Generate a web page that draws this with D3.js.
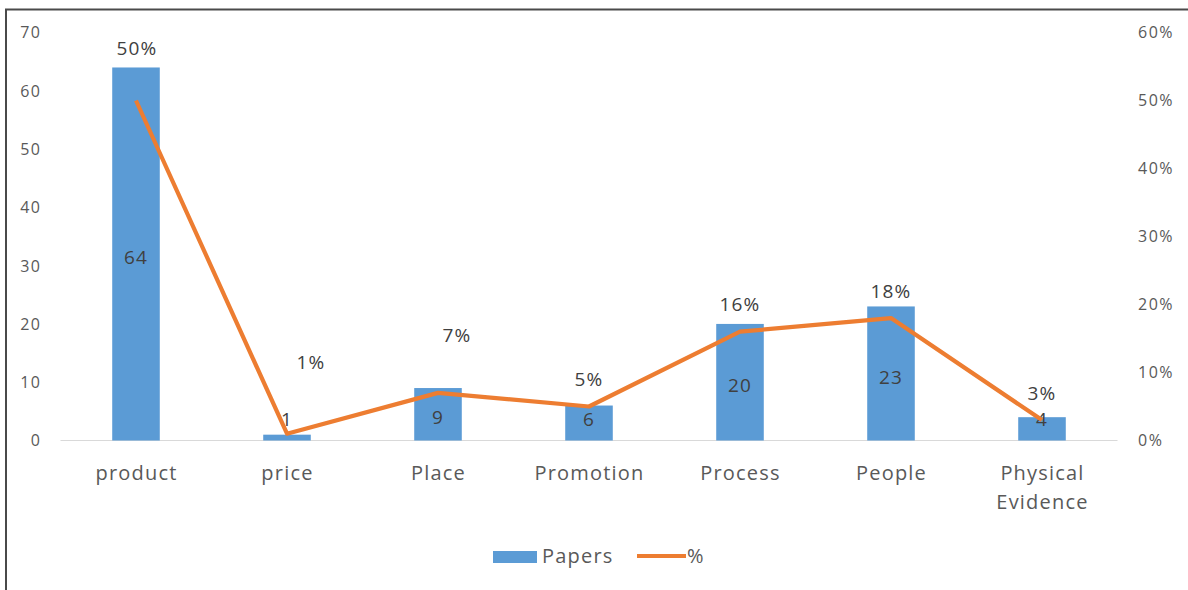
<!DOCTYPE html>
<html>
<head>
<meta charset="utf-8">
<script src="https://d3js.org/d3.v7.min.js"></script>
<style>
  html, body { margin: 0; padding: 0; background: #fff; }
  svg { display: block; }
  text { font-family: "Open Sans", "Noto Sans", sans-serif; }
</style>
</head>
<body>
<svg id="chart" width="1188" height="590"></svg>
<script>
// Marketing-mix elements and how many papers address each
const categories = ["product", "price", "Place", "Promotion", "Process", "People", "Physical Evidence"];
const papers = [64, 1, 9, 6, 20, 23, 4];
const percent = [50, 1, 7, 5, 16, 18, 3];          // share of papers, in %
const leftTicks = [0, 10, 20, 30, 40, 50, 60, 70];
const rightTicks = [0, 10, 20, 30, 40, 50, 60];
const seriesNames = ["Papers", "%"];

// Hand-placed nudges for some percentage labels (dx, dy in px, relative to the default "above" spot)
const pctLabelNudge = [[1, -25], [24, -44], [19, -31], [0, 0], [0, 0], [0, 0], [0, 0]];

const BLUE = "#5B9BD5", ORANGE = "#ED7D31", TXT = "#595959", LBL = "#404040";

const svg = d3.select("#chart");

// chart frame (right and bottom edges fall outside the picture)
svg.append("path")
  .attr("d", "M6,600 V9.5 H1200")
  .attr("fill", "none").attr("stroke", "#4a4a4a").attr("stroke-width", 2);

const plot = { left: 60.5, right: 1117.5, top: 32.5, bottom: 440.5 };

const x = d3.scaleBand().domain(categories).range([plot.left, plot.right]).paddingInner(0).paddingOuter(0);
const yL = d3.scaleLinear().domain([0, 70]).range([plot.bottom, plot.top]);
const yR = d3.scaleLinear().domain([0, 60]).range([plot.bottom, plot.top]);

// left value axis
const axL = svg.append("g").attr("transform", `translate(${plot.left},0)`)
  .call(d3.axisLeft(yL).tickValues(leftTicks).tickSize(0).tickPadding(19));
axL.select(".domain").remove();
axL.selectAll("text").attr("fill", TXT).style("font-size", "16px").attr("letter-spacing", "1.5")
  .attr("dy", "0.34em").attr("font-family", "Open Sans");

// right percent axis
const axR = svg.append("g").attr("transform", `translate(${plot.right},0)`)
  .call(d3.axisRight(yR).tickValues(rightTicks).tickFormat(d => d + "%").tickSize(0).tickPadding(20.5));
axR.select(".domain").remove();
axR.selectAll("text").attr("fill", TXT).style("font-size", "16px").attr("letter-spacing", "1.5")
  .attr("dy", "0.34em").attr("font-family", "Open Sans");

// category axis baseline
svg.append("line")
  .attr("x1", plot.left).attr("x2", plot.right)
  .attr("y1", plot.bottom).attr("y2", plot.bottom)
  .attr("stroke", "#d9d9d9").attr("stroke-width", 1.2);

// category labels, wrapped onto two lines where they contain a space after a long word
const catG = svg.append("g");
categories.forEach(c => {
  const words = c === "Physical Evidence" ? ["Physical", "Evidence"] : [c];
  const t = catG.append("text")
    .attr("x", x(c) + x.bandwidth() / 2 + 0.5)
    .attr("y", 480)
    .attr("text-anchor", "middle")
    .attr("fill", TXT)
    .style("font-size", "20px")
    .attr("letter-spacing", "1.2");
  words.forEach((w, i) => {
    t.append("tspan").attr("x", x(c) + x.bandwidth() / 2 + 0.5).attr("dy", i === 0 ? 0 : 29).text(w);
  });
});

// bars
const barW = x.bandwidth() * 0.315;
svg.append("g").selectAll("rect").data(papers).join("rect")
  .attr("x", (d, i) => x(categories[i]) + x.bandwidth() / 2 - barW / 2)
  .attr("y", d => yL(d))
  .attr("width", barW)
  .attr("height", d => yL(0) - yL(d))
  .attr("fill", BLUE);

// bar value labels, centred in the bar but kept clear of the baseline
svg.append("g").selectAll("text").data(papers).join("text")
  .attr("x", (d, i) => x(categories[i]) + x.bandwidth() / 2)
  .attr("y", d => Math.min((yL(d) + yL(0)) / 2, yL(0) - 25) + 3.5)
  .attr("dy", "0.35em")
  .attr("text-anchor", "middle")
  .attr("fill", LBL)
  .style("font-size", "19px")
  .attr("letter-spacing", "1.2")
  .text(d => d);

// percentage line
const line = d3.line()
  .x((d, i) => x(categories[i]) + x.bandwidth() / 2)
  .y(d => yR(d));
svg.append("path").datum(percent)
  .attr("d", line)
  .attr("fill", "none")
  .attr("stroke", ORANGE)
  .attr("stroke-width", 4.2)
  .attr("stroke-linejoin", "round");

// percentage labels
svg.append("g").selectAll("text").data(percent).join("text")
  .attr("x", (d, i) => x(categories[i]) + x.bandwidth() / 2 + pctLabelNudge[i][0])
  .attr("y", (d, i) => yR(d) - 27 + pctLabelNudge[i][1])
  .attr("dy", "0.35em")
  .attr("text-anchor", "middle")
  .attr("fill", LBL)
  .style("font-size", "19px")
  .attr("letter-spacing", "1.2")
  .text(d => d + "%");

// legend
const lg = svg.append("g");
lg.append("rect").attr("x", 493).attr("y", 551).attr("width", 44).attr("height", 12).attr("fill", BLUE);
lg.append("text").attr("x", 542).attr("y", 556).attr("dy", "0.35em")
  .attr("fill", TXT).style("font-size", "20px").attr("letter-spacing", "1.2").text(seriesNames[0]);
lg.append("line").attr("x1", 637).attr("x2", 686).attr("y1", 556).attr("y2", 556)
  .attr("stroke", ORANGE).attr("stroke-width", 4.2);
lg.append("text").attr("x", 687).attr("y", 556).attr("dy", "0.35em")
  .attr("fill", TXT).style("font-size", "20px").text(seriesNames[1]);
</script>
</body>
</html>
